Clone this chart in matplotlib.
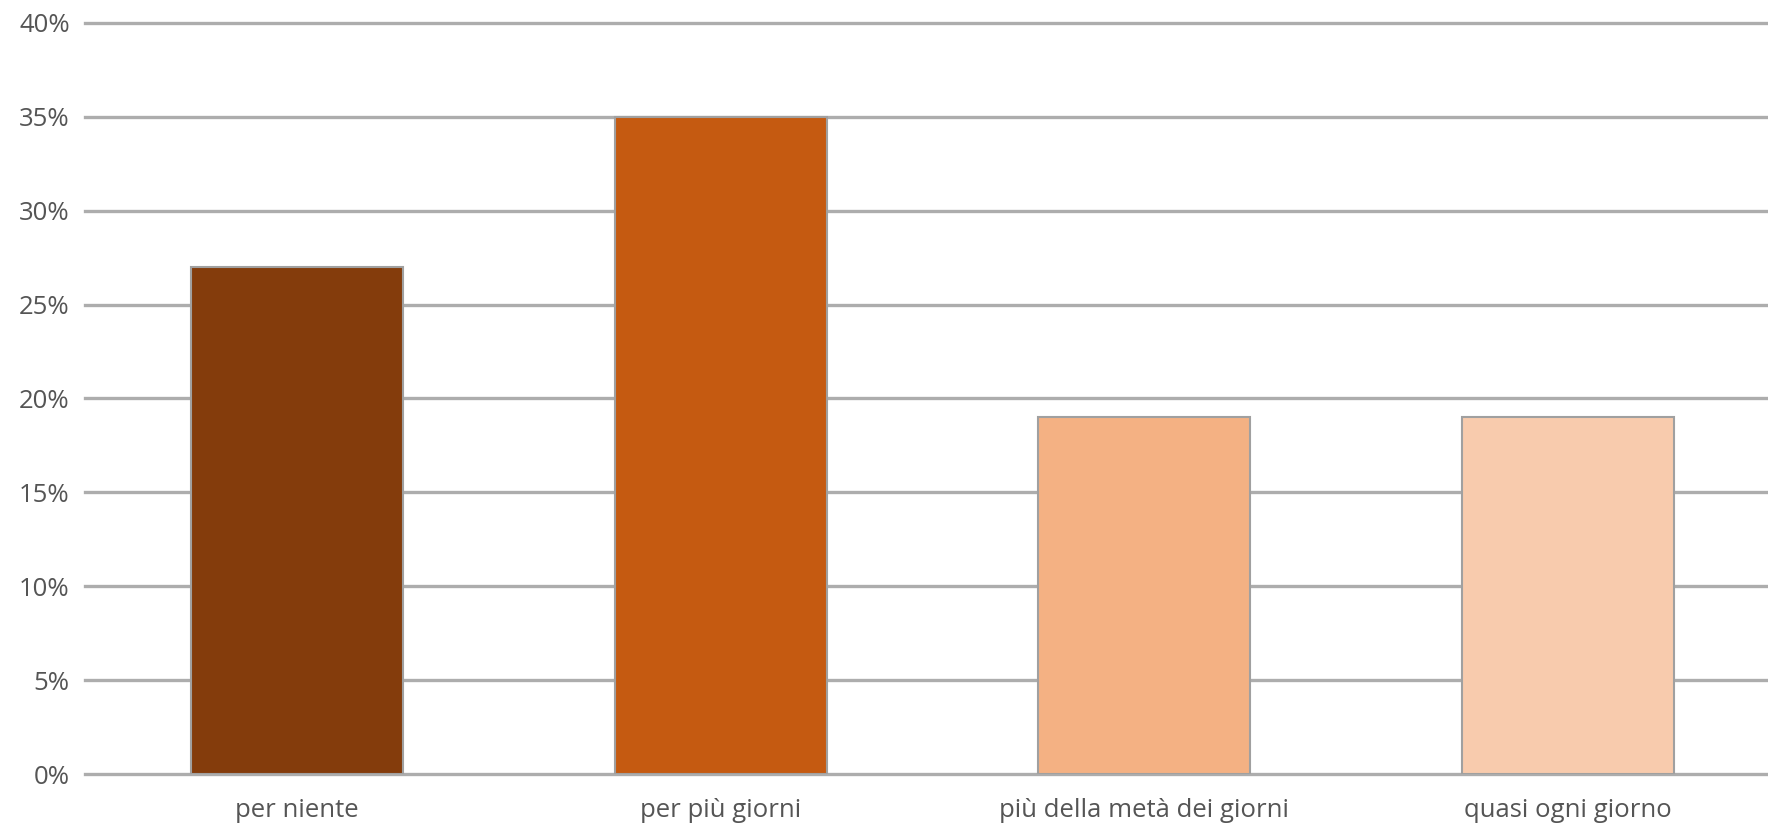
import matplotlib
matplotlib.use("Agg")
import matplotlib.pyplot as plt
from matplotlib.ticker import FuncFormatter

categories = ["per niente", "per più giorni", "più della metà dei giorni", "quasi ogni giorno"]
values = [27, 35, 19, 19]
colors = ["#843C0C", "#C55A11", "#F4B183", "#F8CBAD"]
yticks = [0, 5, 10, 15, 20, 25, 30, 35, 40]

plt.rcParams["font.family"] = ["Open Sans", "DejaVu Sans"]

W, H = 1768, 826
fig = plt.figure(figsize=(W / 100, H / 100), dpi=100)
left, right = 85, 1768
bottom, top = 774, 23
ax = fig.add_axes([left / W, 1 - bottom / H, (right - left) / W, (bottom - top) / H])

ax.bar(range(len(categories)), values, width=0.5, color=colors,
       edgecolor="#A0A0A0", linewidth=1.5, zorder=3)

ax.set_ylim(0, 40)
ax.set_xlim(-0.5, 3.5 - 12 / 423.7)
ax.set_yticks(yticks)
ax.yaxis.set_major_formatter(FuncFormatter(lambda v, p: f"{v:.0f}%"))
ax.set_xticks(range(len(categories)))
ax.set_xticklabels(categories)

ax.grid(axis="y", color="#ADADAD", linewidth=2.4, zorder=0)
for gl in ax.get_ygridlines():
    gl.set_clip_on(False)
for s in ax.spines.values():
    s.set_visible(False)
ax.tick_params(axis="both", length=0, labelcolor="#555555", labelsize=18.5)
ax.tick_params(axis="y", pad=11)
ax.tick_params(axis="x", pad=17)

fig.savefig("out.png", dpi=100)
